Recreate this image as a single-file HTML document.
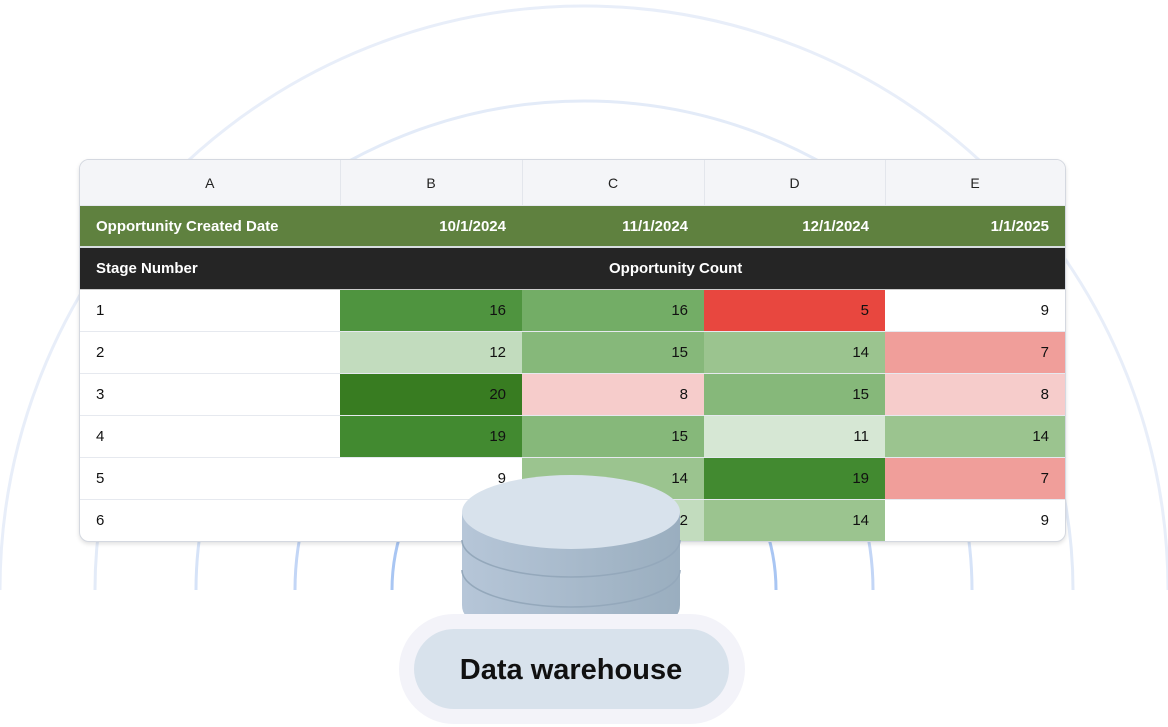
<!DOCTYPE html><html><head><style>
html,body{margin:0;width:1168px;height:727px;overflow:hidden}
body{background:#fff;position:relative;font-family:"Liberation Sans",sans-serif}
svg.bg{position:absolute;left:0;top:0;display:block}
table{border-collapse:collapse;table-layout:fixed;font-size:15px;color:#111}
.wrap{position:absolute;left:79px;top:159px;width:985px;height:381px;border:1px solid #d4d8e0;border-radius:10px;box-shadow:0 2px 4px rgba(0,0,0,.12);overflow:hidden;background:#fff}
.wrap table{width:985px}
td{padding:0 16px;height:41px;border-bottom:1px solid #e6e9ef;text-align:right}
td:first-child{text-align:left}
tr.h td{height:45px;background:#f4f5f8;text-align:center;font-size:14px;border-right:1px solid #e3e6ec;color:#222}
tr.g td{background:#5f813f;color:#fff;font-weight:bold;height:40px;border-bottom:2px solid #d8dde0}
tr.k td{background:#252525;color:#fff;font-weight:bold;height:41px;border-bottom:1px solid #ccc}
</style></head><body>
<svg class="bg" width="1168" height="727">
<defs><clipPath id="c"><rect x="0" y="0" width="1168" height="590"/></clipPath>
<linearGradient id="cy" x1="0" x2="1"><stop offset="0" stop-color="#b6c6d8"/><stop offset="1" stop-color="#9aaebf"/></linearGradient></defs>
<g clip-path="url(#c)" fill="none">
<circle cx="584" cy="590" r="584" stroke="#e8eef9" stroke-width="3"/>
<circle cx="584" cy="590" r="489" stroke="#e3ebf8" stroke-width="3"/>
<circle cx="584" cy="590" r="388" stroke="#d6e3f8" stroke-width="3"/>
<circle cx="584" cy="590" r="289" stroke="#c3d6f6" stroke-width="3"/>
<circle cx="584" cy="590" r="192" stroke="#a9c6f3" stroke-width="3"/>
</g>
</svg>
<div class="wrap"><table>
<colgroup><col style="width:260px"><col style="width:182px"><col style="width:182px"><col style="width:181px"><col style="width:180px"></colgroup>
<tr class="h"><td style="text-align:center">A</td><td style="text-align:center">B</td><td style="text-align:center">C</td><td style="text-align:center">D</td><td style="text-align:center">E</td></tr>
<tr class="g"><td>Opportunity Created Date</td><td>10/1/2024</td><td>11/1/2024</td><td>12/1/2024</td><td>1/1/2025</td></tr>
<tr class="k"><td>Stage Number</td><td colspan="4" style="text-align:left;padding-left:269px">Opportunity Count</td></tr>
<tr><td>1</td><td style="background:#4f943f">16</td><td style="background:#73ad66">16</td><td style="background:#e8473f">5</td><td>9</td></tr>
<tr><td>2</td><td style="background:#c2dcbe">12</td><td style="background:#86b87a">15</td><td style="background:#9bc48f">14</td><td style="background:#f09e9a">7</td></tr>
<tr><td>3</td><td style="background:#387c21">20</td><td style="background:#f6cccb">8</td><td style="background:#86b87a">15</td><td style="background:#f6cccb">8</td></tr>
<tr><td>4</td><td style="background:#428a30">19</td><td style="background:#86b87a">15</td><td style="background:#d6e7d4">11</td><td style="background:#9bc48f">14</td></tr>
<tr><td>5</td><td>9</td><td style="background:#9bc48f">14</td><td style="background:#428a30">19</td><td style="background:#f09e9a">7</td></tr>
<tr><td>6</td><td></td><td style="background:#c2dcbe">12</td><td style="background:#9bc48f">14</td><td>9</td></tr>
</table></div>
<svg class="bg" width="1168" height="727">
<path d="M462 512 L462 605 Q462 620 480 620 L662 620 Q680 620 680 605 L680 512 Z" fill="url(#cy)"/>
<path d="M462 540 A109 37 0 0 0 680 540" fill="none" stroke="#94a8bb" stroke-width="1.5"/>
<path d="M462 570 A109 37 0 0 0 680 570" fill="none" stroke="#94a8bb" stroke-width="1.5"/>
<ellipse cx="571" cy="512" rx="109" ry="37" fill="#d8e2ec"/>
<rect x="399" y="614" width="346" height="110" rx="55" fill="#f3f3f9"/>
<rect x="414" y="629" width="315" height="80" rx="40" fill="#d8e2ec"/>
<text x="571" y="679" text-anchor="middle" font-family="Liberation Sans" font-size="29" font-weight="bold" fill="#111">Data warehouse</text>
</svg>
</body></html>
